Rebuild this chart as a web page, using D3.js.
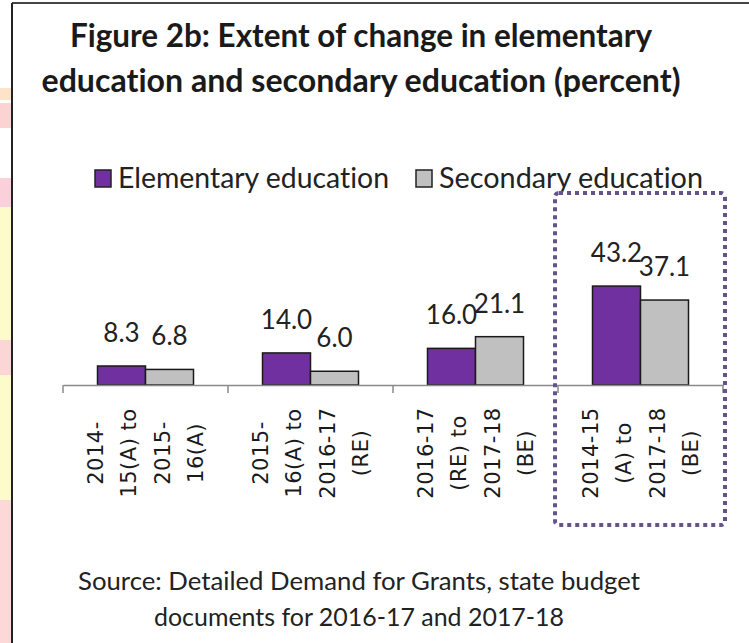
<!DOCTYPE html>
<html>
    <head>
        <title>Figure 2b</title>
        <meta charset="UTF-8">
        <script src="https://cdn.jsdelivr.net/npm/d3@7"></script>
        <style>
body { margin: 0; background: #fff; }
svg { display: block; }
text { font-variant-ligatures: none; font-feature-settings: "liga" 0; }
        </style>
    </head>
	<body>
		<script>
// chart values
var categories = [
    ["2014-", "15(A) to", "2015-", "16(A)"],
    ["2015-", "16(A) to", "2016-17", "(RE)"],
    ["2016-17", "(RE) to", "2017-18", "(BE)"],
    ["2014-15", "(A) to", "2017-18", "(BE)"]
];
var elementary = [8.3, 14.0, 16.0, 43.2];
var secondary = [6.8, 6.0, 21.1, 37.1];
var seriesNames = ["Elementary education", "Secondary education"];
var seriesColors = ["#7030a0", "#c0c0c0"];
var titleLines = ["Figure 2b: Extent of change in elementary",
                  "education and secondary education (percent)"];
var sourceLines = ["Source: Detailed Demand for Grants, state budget",
                   "documents for 2016-17 and 2017-18"];

var W = 749, H = 643;
var svg = d3.select("body").append("svg")
    .attr("width", W)
    .attr("height", H);

// faint watermark strip on the left edge
var strip = svg.append("g");
var stripBits = [
    [88, 100, "#fde3c8"], [103, 128, "#fbd3d3"], [178, 207, "#fbd0da"],
    [207, 340, "#fefbca"], [340, 375, "#fcd6d6"], [375, 500, "#fefbca"],
    [500, 643, "#fcd8d8"]
];
strip.selectAll("rect").data(stripBits).enter().append("rect")
    .attr("x", 0).attr("width", 12)
    .attr("y", function(d){ return d[0]; })
    .attr("height", function(d){ return d[1] - d[0]; })
    .attr("fill", function(d){ return d[2]; });

// frame lines
svg.append("line").attr("x1", 12).attr("x2", W).attr("y1", 3).attr("y2", 3)
    .attr("stroke", "#444").attr("stroke-width", 2);
svg.append("line").attr("x1", 12).attr("x2", 12).attr("y1", 3).attr("y2", H)
    .attr("stroke", "#222").attr("stroke-width", 2);

// title
svg.selectAll("text.title").data(titleLines).enter().append("text")
    .attr("class", "title")
    .attr("x", 361)
    .attr("y", function(d, i){ return 47 + i * 45; })
    .attr("text-anchor", "middle")
    .attr("font-family", "Lato, sans-serif")
    .attr("font-weight", "bold")
    .attr("font-size", 33)
    .attr("fill", "#1a1a1a")
    .attr("textLength", function(d, i){ return i == 0 ? 582 : 639; })
    .attr("lengthAdjust", "spacingAndGlyphs")
    .text(function(d){ return d; });

// legend
var legendX = [95, 416];
var legendW = [271, 264];
var legend = svg.selectAll("g.legend").data(seriesNames).enter().append("g")
    .attr("class", "legend")
    .attr("transform", function(d, i){ return "translate(" + legendX[i] + ",170)"; });
legend.append("rect")
    .attr("width", 16).attr("height", 17)
    .attr("fill", function(d, i){ return seriesColors[i]; })
    .attr("stroke", "#222").attr("stroke-width", 1.5);
legend.append("text")
    .attr("x", 23).attr("y", 18)
    .attr("font-family", "Lato, sans-serif")
    .attr("font-size", 29)
    .attr("fill", "#222")
    .attr("textLength", function(d, i){ return legendW[i]; })
    .attr("lengthAdjust", "spacingAndGlyphs")
    .text(function(d){ return d; });

// scales
var x0 = d3.scaleBand().domain(d3.range(categories.length)).range([63, 723]).padding(0);
var x1 = d3.scaleBand().domain([0, 1]).range([0, 96]);
var y = d3.scaleLinear().domain([0, 50]).range([385, 385 - 50 * 2.29]);

var groups = svg.selectAll("g.grp").data(d3.range(categories.length)).enter().append("g")
    .attr("class", "grp")
    .attr("transform", function(i){ return "translate(" + (x0(i) + (x0.bandwidth() - 96) / 2) + ",0)"; });

var pairs = function(i){ return [elementary[i], secondary[i]]; };

groups.selectAll("rect").data(pairs).enter().append("rect")
    .attr("x", function(d, j){ return x1(j); })
    .attr("y", function(d){ return y(d); })
    .attr("width", x1.bandwidth())
    .attr("height", function(d){ return y(0) - y(d); })
    .attr("fill", function(d, j){ return seriesColors[j]; })
    .attr("stroke", "#1a1a1a")
    .attr("stroke-width", 1.5);

groups.selectAll("text").data(pairs).enter().append("text")
    .attr("x", function(d, j){ return x1(j) + x1.bandwidth() / 2; })
    .attr("y", function(d){ return y(d) - 24; })
    .attr("text-anchor", "middle")
    .attr("font-family", "Lato, sans-serif")
    .attr("font-size", 26)
    .attr("fill", "#222")
    .text(function(d){ return d.toFixed(1); });

// x axis
var axis = d3.axisBottom(x0).tickSize(0).tickFormat("");
var ax = svg.append("g").attr("transform", "translate(0," + y(0) + ")").call(axis);
ax.select(".domain").attr("stroke", "#8a8a8a").attr("stroke-width", 1.5);
var tickPos = d3.range(categories.length + 1).map(function(i){ return 63 + i * x0.bandwidth(); });
svg.selectAll("line.tk").data(tickPos).enter().append("line")
    .attr("class", "tk")
    .attr("x1", function(d){ return d; }).attr("x2", function(d){ return d; })
    .attr("y1", y(0)).attr("y2", y(0) + 8)
    .attr("stroke", "#8a8a8a").attr("stroke-width", 1.5);

// rotated category labels
categories.forEach(function(lines, i){
    var cx = x0(i) + x0.bandwidth() / 2;
    lines.forEach(function(t, k){
        var lx = cx + (k - 1.5) * 33.5 + 7.5;
        svg.append("text")
            .attr("transform", "translate(" + lx + ",453) rotate(-90)")
            .attr("text-anchor", "middle")
            .attr("font-family", "DejaVu Sans, sans-serif")
            .attr("font-size", 21)
            .attr("letter-spacing", 0.5)
            .attr("fill", "#1a1a1a")
            .text(t);
    });
});

// dotted highlight box
svg.append("rect")
    .attr("x", 555).attr("y", 193)
    .attr("width", 170).attr("height", 332)
    .attr("rx", 4)
    .attr("fill", "none")
    .attr("stroke", "#65548c")
    .attr("stroke-width", 4)
    .attr("stroke-dasharray", "4 4");

// source
svg.selectAll("text.src").data(sourceLines).enter().append("text")
    .attr("class", "src")
    .attr("x", 359)
    .attr("y", function(d, i){ return 590 + i * 36; })
    .attr("text-anchor", "middle")
    .attr("font-family", "Lato, sans-serif")
    .attr("font-size", 25)
    .attr("fill", "#222")
    .attr("textLength", function(d, i){ return i == 0 ? 562 : 410; })
    .attr("lengthAdjust", "spacingAndGlyphs")
    .text(function(d){ return d; });
		</script>
	</body>
</html>
